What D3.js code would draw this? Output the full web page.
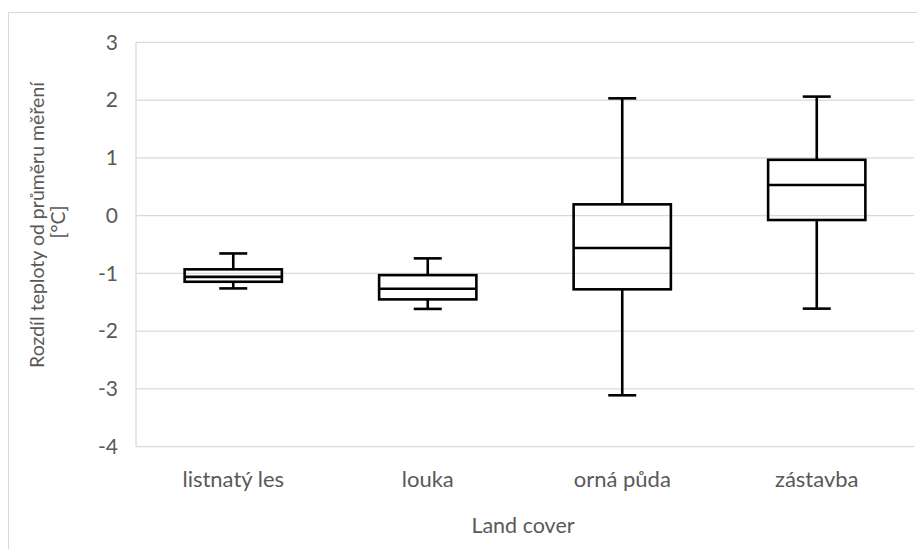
<!DOCTYPE html>
<html>
<head>
<meta charset="utf-8">
<script src="https://cdn.jsdelivr.net/npm/d3@7"></script>
<style>
  html, body { margin: 0; padding: 0; background: #fff; }
  svg { display: block; }
  text { font-family: Lato, "Open Sans", sans-serif; fill: #595959; }
</style>
</head>
<body>
<svg id="chart" width="917" height="549"></svg>
<script>
// Land-cover categories and their box-plot statistics (°C difference from the measurement mean)
const categories = ["listnatý les", "louka", "orná půda", "zástavba"];
const whiskerMin = [-1.26, -1.615, -3.11, -1.61];
const quartile1  = [-1.145, -1.45, -1.276, -0.076];
const medians    = [-1.06, -1.265, -0.56, 0.53];
const quartile3  = [-0.93, -1.03, 0.195, 0.966];
const whiskerMax = [-0.655, -0.74, 2.03, 2.06];
const yTicks = [3, 2, 1, 0, -1, -2, -3, -4];

const svg = d3.select("#chart");
const plot = { left: 136, right: 914, top: 42.3, bottom: 446.7 };

// outer chart frame
svg.append("rect")
  .attr("x", 8.5).attr("y", 12.5)
  .attr("width", 1000).attr("height", 1000)
  .attr("fill", "none").attr("stroke", "#d9d9d9").attr("stroke-width", 1);

const x = d3.scaleBand().domain(categories).range([plot.left, plot.right]);
const y = d3.scaleLinear().domain([-4, 3]).range([plot.bottom, plot.top]);

// horizontal gridlines
svg.append("g").selectAll("line").data(yTicks).join("line")
  .attr("x1", plot.left).attr("x2", plot.right)
  .attr("y1", d => y(d)).attr("y2", d => y(d))
  .attr("stroke", "#d9d9d9").attr("stroke-width", 1.3);

// left axis line
svg.append("line")
  .attr("x1", plot.left).attr("x2", plot.left)
  .attr("y1", plot.top).attr("y2", plot.bottom)
  .attr("stroke", "#d9d9d9").attr("stroke-width", 1.3);

// y axis tick labels (plain hyphen for negatives)
const yAxis = d3.axisLeft(y).tickValues(yTicks).tickSize(0).tickPadding(18).tickFormat(d => String(d));
const gy = svg.append("g").attr("transform", `translate(${plot.left},0)`).call(yAxis);
gy.select(".domain").remove();
gy.selectAll("text").attr("font-size", 21).style("font-family", "Lato, sans-serif").attr("fill", "#595959");

// x axis category labels
const xAxis = d3.axisBottom(x).tickSize(0).tickPadding(25);
const gx = svg.append("g").attr("transform", `translate(0,${plot.bottom})`).call(xAxis);
gx.select(".domain").remove();
gx.selectAll("text").attr("font-size", 22).style("font-family", "Lato, sans-serif").attr("fill", "#595959");

// box plots
const boxW = x.bandwidth() * 0.5;
const capW = 28;
const boxes = svg.append("g").selectAll("g").data(categories).join("g")
  .attr("transform", d => `translate(${x(d) + x.bandwidth() / 2},0)`);

const stroke = { stroke: "#000", "stroke-width": 2.6, fill: "none" };
function styled(sel) { Object.entries(stroke).forEach(([k, v]) => sel.attr(k, v)); return sel; }

// whiskers
styled(boxes.append("line").attr("x1", 0).attr("x2", 0)
  .attr("y1", (d, i) => y(quartile3[i])).attr("y2", (d, i) => y(whiskerMax[i])));
styled(boxes.append("line").attr("x1", 0).attr("x2", 0)
  .attr("y1", (d, i) => y(quartile1[i])).attr("y2", (d, i) => y(whiskerMin[i])));
// caps
styled(boxes.append("line").attr("x1", -capW / 2).attr("x2", capW / 2)
  .attr("y1", (d, i) => y(whiskerMax[i])).attr("y2", (d, i) => y(whiskerMax[i])));
styled(boxes.append("line").attr("x1", -capW / 2).attr("x2", capW / 2)
  .attr("y1", (d, i) => y(whiskerMin[i])).attr("y2", (d, i) => y(whiskerMin[i])));
// box
styled(boxes.append("rect").attr("x", -boxW / 2).attr("width", boxW)
  .attr("y", (d, i) => y(quartile3[i]))
  .attr("height", (d, i) => y(quartile1[i]) - y(quartile3[i])));
// median
styled(boxes.append("line").attr("x1", -boxW / 2).attr("x2", boxW / 2)
  .attr("y1", (d, i) => y(medians[i])).attr("y2", (d, i) => y(medians[i])));

// axis titles
svg.append("text")
  .attr("transform", "translate(44,225) rotate(-90)")
  .attr("text-anchor", "middle").attr("font-size", 19.5)
  .text("Rozdíl teploty od průměru měření");
svg.append("text")
  .attr("transform", "translate(65,222) rotate(-90)")
  .attr("text-anchor", "middle").attr("font-size", 19.5)
  .text("[°C]");
svg.append("text")
  .attr("x", 523).attr("y", 533)
  .attr("text-anchor", "middle").attr("font-size", 21.5)
  .text("Land cover");
</script>
</body>
</html>
